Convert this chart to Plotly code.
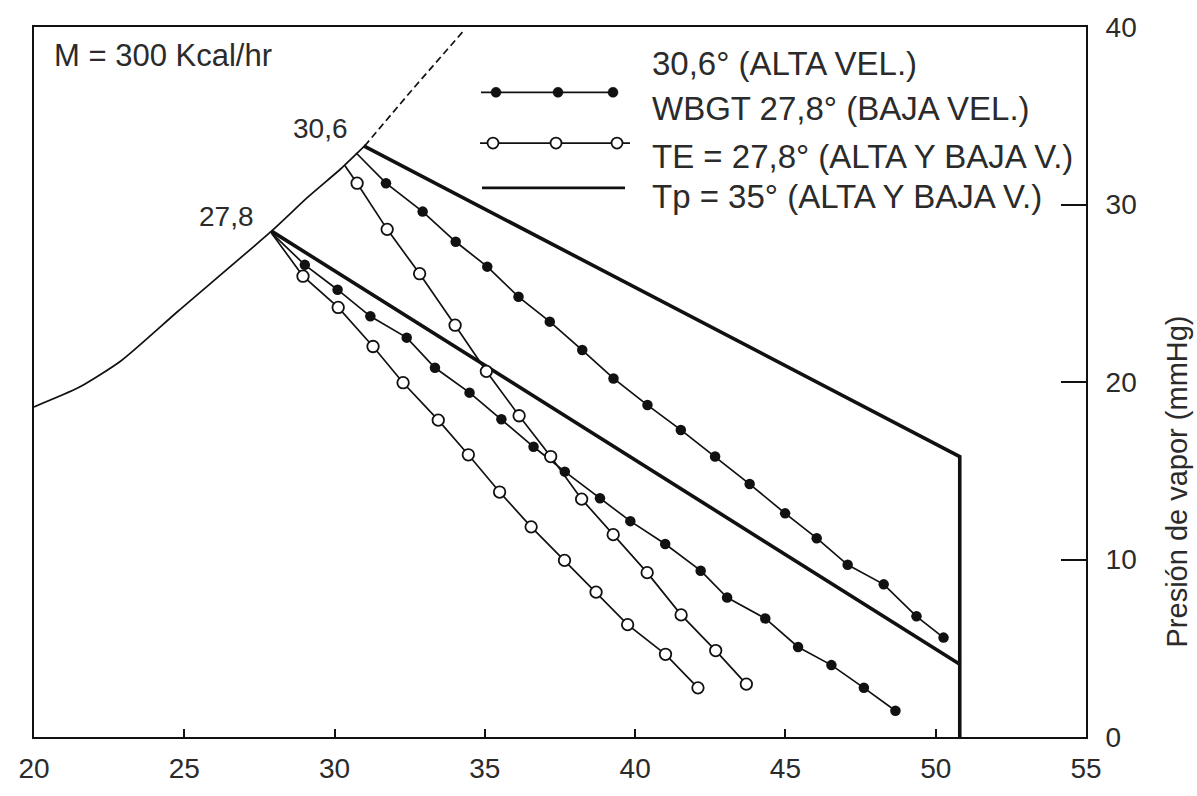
import plotly.graph_objects as go

# ---------------- data ----------------
# saturation / limit curve for M = 300 Kcal/hr
sat_x = [20.0, 21.5, 22.9, 24.8, 27.9, 29.1, 30.2, 31.0]
sat_y = [18.6, 19.7, 21.2, 24.0, 28.5, 30.4, 32.0, 33.3]
sat_dash_x = [31.0, 32.6, 34.3]
sat_dash_y = [33.3, 36.5, 39.8]

# WBGT 30,6 (alta vel.)  -- first point is the start on the curve
wbgt_hi_x = [30.72, 31.71, 32.93, 34.03, 35.08, 36.12, 37.16, 38.24, 39.28, 40.41,
             41.52, 42.66, 43.81, 44.99, 46.04, 47.07, 48.27, 49.36, 50.26]
wbgt_hi_y = [32.9, 31.2, 29.6, 27.9, 26.5, 24.8, 23.4, 21.8, 20.2, 18.7,
             17.3, 15.8, 14.25, 12.6, 11.2, 9.7, 8.6, 6.8, 5.6]

# WBGT 27,8 (baja vel.)
wbgt_lo_x = [27.9, 29.01, 30.10, 31.19, 32.40, 33.34, 34.49, 35.55, 36.62, 37.66,
             38.83, 39.84, 41.00, 42.18, 43.06, 44.33, 45.42, 46.53, 47.61, 48.66]
wbgt_lo_y = [28.4, 26.6, 25.2, 23.7, 22.5, 20.8, 19.4, 17.9, 16.35, 14.95,
             13.45, 12.16, 10.87, 9.37, 7.86, 6.68, 5.07, 4.05, 2.77, 1.48]

# TE = 27,8 (alta vel.)
te_hi_x = [30.34, 30.75, 31.75, 32.83, 34.01, 35.05, 36.14, 37.19, 38.22, 39.27,
           40.40, 41.53, 42.68, 43.70]
te_hi_y = [32.2, 31.2, 28.6, 26.1, 23.2, 20.6, 18.1, 15.8, 13.4, 11.4,
           9.26, 6.88, 4.87, 2.98]

# TE = 27,8 (baja vel.)
te_lo_x = [27.9, 28.95, 30.12, 31.28, 32.28, 33.45, 34.45, 35.49, 36.54, 37.65,
           38.70, 39.75, 41.01, 42.09]
te_lo_y = [28.4, 25.96, 24.2, 22.0, 19.96, 17.85, 15.9, 13.8, 11.84, 9.95,
           8.16, 6.33, 4.66, 2.77]

# Tp = 35 (alta y baja v.)
tp_hi_x = [30.97, 50.8, 50.8]
tp_hi_y = [33.3, 15.8, 0.0]
tp_lo_x = [27.9, 50.8]
tp_lo_y = [28.5, 4.1]

x_ticks = [20, 25, 30, 35, 40, 45, 50, 55]
y_ticks = [0, 10, 20, 30, 40]

legend_texts = ["30,6° (ALTA VEL.)", "WBGT 27,8° (BAJA VEL.)",
                "TE = 27,8° (ALTA Y BAJA V.)", "Tp = 35° (ALTA Y BAJA V.)"]

# ---------------- styling ----------------
INK = "#111111"
TXT = "#2b2b2b"
FONT = "Liberation Sans, Arial, sans-serif"
THIN = 1.7
THICK = 3.6

PL, PR, PT, PB = 34, 1086, 16, 744
W, H = 1197, 796


def px(x):
    return (x - PL) / (PR - PL)


def py(y):
    return (PB - y) / (PB - PT)


fig = go.Figure()

# limit curve
fig.add_trace(go.Scatter(x=sat_x, y=sat_y, mode="lines",
                         line=dict(color=INK, width=THIN, shape="spline", smoothing=0.6),
                         hoverinfo="skip"))
fig.add_trace(go.Scatter(x=sat_dash_x, y=sat_dash_y, mode="lines",
                         line=dict(color=INK, width=THIN, dash="7px,4px"), hoverinfo="skip"))

# Tp lines (thick)
fig.add_trace(go.Scatter(x=tp_hi_x, y=tp_hi_y, mode="lines",
                         line=dict(color=INK, width=THICK)))
fig.add_trace(go.Scatter(x=tp_lo_x, y=tp_lo_y, mode="lines",
                         line=dict(color=INK, width=THICK)))

filled = dict(symbol="circle", size=10.5, color=INK, line=dict(width=0))
opened = dict(symbol="circle", size=11.5, color="white", line=dict(width=1.8, color=INK))

for xs, ys, mk in [(wbgt_hi_x, wbgt_hi_y, filled), (wbgt_lo_x, wbgt_lo_y, filled),
                   (te_hi_x, te_hi_y, opened), (te_lo_x, te_lo_y, opened)]:
    fig.add_trace(go.Scatter(x=xs, y=ys, mode="lines",
                             line=dict(color=INK, width=THIN)))
    fig.add_trace(go.Scatter(x=xs[1:], y=ys[1:], mode="markers", marker=mk))

# ---------------- legend (drawn as layout decoration) ----------------
shapes = []
annotations = []


def hline(x0, x1, y, w):
    shapes.append(dict(type="line", xref="paper", yref="paper",
                       x0=px(x0), x1=px(x1), y0=py(y), y1=py(y),
                       line=dict(color=INK, width=w)))


def dot(x, y, r, fill, lw):
    shapes.append(dict(type="circle", xref="paper", yref="paper",
                       xsizemode="pixel", ysizemode="pixel",
                       xanchor=px(x), yanchor=py(y),
                       x0=-r, x1=r, y0=-r, y1=r,
                       fillcolor=fill, line=dict(color=INK, width=lw)))


hline(481, 613, 83, THIN)
for xx in (496, 558, 613):
    dot(xx, 83, 5, INK, 0.5)
hline(480, 630, 135, THIN)
for xx in (493, 556, 617):
    dot(xx, 135, 5.5, "white", 1.8)
hline(482, 625, 181, 2.6)

for txt, yy in zip(legend_texts, [53, 100, 149, 190]):
    annotations.append(dict(text=txt, xref="paper", yref="paper",
                            x=px(650), y=py(yy), xanchor="left", yanchor="middle",
                            showarrow=False, font=dict(family=FONT, size=33, color=TXT)))

annotations.append(dict(text="M = 300 Kcal/hr", xref="paper", yref="paper",
                        x=px(52), y=py(45), xanchor="left", yanchor="middle",
                        showarrow=False, font=dict(family=FONT, size=31, color=TXT)))
annotations.append(dict(text="30,6", xref="paper", yref="paper",
                        x=px(350), y=py(120), xanchor="right", yanchor="middle",
                        showarrow=False, font=dict(family=FONT, size=28, color=TXT)))
annotations.append(dict(text="27,8", xref="paper", yref="paper",
                        x=px(256), y=py(210), xanchor="right", yanchor="middle",
                        showarrow=False, font=dict(family=FONT, size=28, color=TXT)))
annotations.append(dict(text="Presión de vapor (mmHg)", xref="paper", yref="paper",
                        x=px(1177), y=py(482), xanchor="center", yanchor="middle",
                        textangle=-90, showarrow=False,
                        font=dict(family=FONT, size=29, color=TXT)))

fig.update_layout(
    width=W, height=H,
    margin=dict(l=PL, r=W - PR, t=PT, b=H - PB),
    paper_bgcolor="white", plot_bgcolor="white",
    showlegend=False,
    shapes=shapes, annotations=annotations,
    font=dict(family=FONT, color=TXT),
)
fig.update_xaxes(range=[20, 55], tickvals=x_ticks, ticktext=[str(v) for v in x_ticks],
                 showgrid=False, zeroline=False, showline=True, mirror=True,
                 linecolor=INK, linewidth=2, ticks="inside", ticklen=8, tickwidth=1.6,
                 tickcolor=INK, ticklabelstandoff=5,
                 tickfont=dict(family=FONT, size=28, color=TXT))
fig.update_yaxes(range=[0, 40], tickvals=y_ticks, ticktext=[str(v) for v in y_ticks],
                 side="right", showgrid=False, zeroline=False, showline=True, mirror=True,
                 linecolor=INK, linewidth=2, ticks="inside", ticklen=25, tickwidth=1.8,
                 tickcolor=INK, ticklabelstandoff=12,
                 tickfont=dict(family=FONT, size=28, color=TXT))

fig.write_html("out.html")
